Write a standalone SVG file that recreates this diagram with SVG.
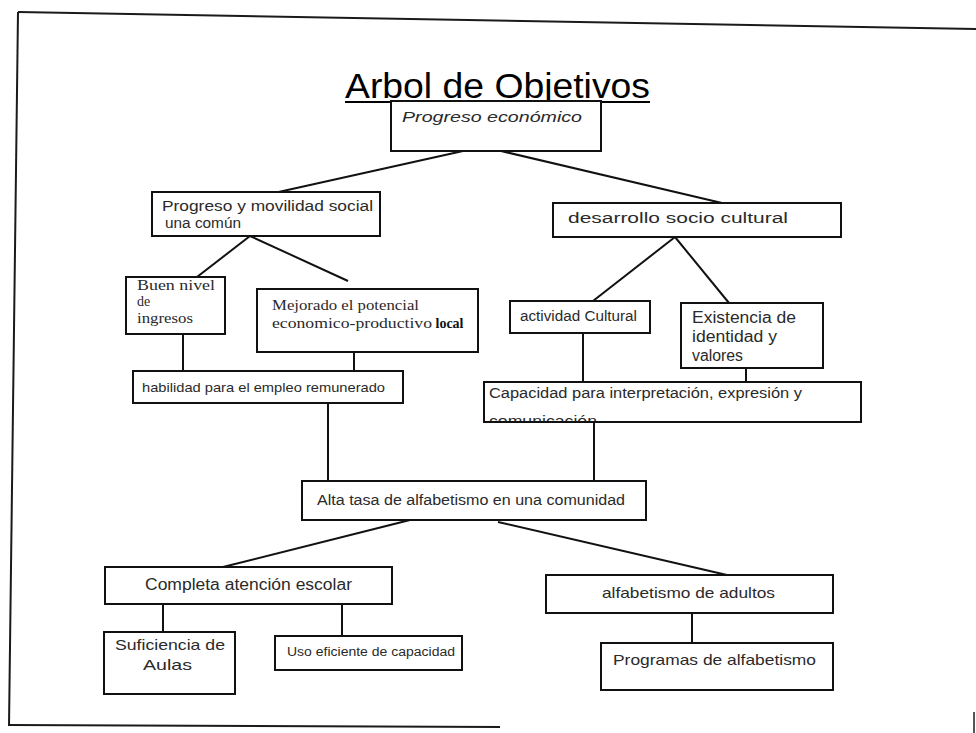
<svg xmlns="http://www.w3.org/2000/svg" width="976" height="733" viewBox="0 0 976 733">
<style>
.bg{fill:#ffffff}
.frame{fill:none;stroke:#1a1a1a;stroke-width:2}
.box{fill:#ffffff;stroke:#111111;stroke-width:2}
.conn{fill:none;stroke:#111111;stroke-width:2}
.t{font-family:"Liberation Sans",Arial,sans-serif;fill:#2a2a2a}
.s{font-family:"Liberation Serif","Times New Roman",serif;fill:#2a2a2a}
.title{font-family:"Liberation Sans",Arial,sans-serif;fill:#000000;font-size:35px}
</style>
<defs>
<clipPath id="capClip"><rect x="485" y="383" width="375" height="38"/></clipPath>
</defs>
<rect class="bg" x="0" y="0" width="976" height="733"/>
<g id="frame">
<line class="frame" x1="18" y1="12" x2="976" y2="29"/>
<line class="frame" x1="18" y1="12" x2="9" y2="726"/>
<line class="frame" x1="9" y1="725" x2="500" y2="727"/>
<line x1="974" y1="712" x2="974" y2="733" stroke="#555" stroke-width="2"/>
</g>
<g id="title">
<text class="title" x="345" y="98" textLength="305" lengthAdjust="spacingAndGlyphs">Arbol de Objetivos</text>
<line x1="345" y1="102" x2="650" y2="102" stroke="#000" stroke-width="2"/>
</g>
<g id="connectors">
<line class="conn" x1="463" y1="151" x2="274" y2="193"/>
<line class="conn" x1="501" y1="151" x2="722" y2="203"/>
<line class="conn" x1="250" y1="236" x2="197" y2="277"/>
<line class="conn" x1="250" y1="236" x2="348" y2="281"/>
<line class="conn" x1="183" y1="334" x2="183" y2="371"/>
<line class="conn" x1="354" y1="352" x2="354" y2="371"/>
<line class="conn" x1="675" y1="237" x2="593" y2="301"/>
<line class="conn" x1="675" y1="237" x2="729" y2="303"/>
<line class="conn" x1="583" y1="333" x2="583" y2="382"/>
<line class="conn" x1="746" y1="368" x2="746" y2="382"/>
<line class="conn" x1="328" y1="403" x2="328" y2="481"/>
<line class="conn" x1="594" y1="422" x2="594" y2="481"/>
<line class="conn" x1="410" y1="520" x2="223" y2="567"/>
<line class="conn" x1="498" y1="522" x2="727" y2="575"/>
<line class="conn" x1="163" y1="604" x2="163" y2="632"/>
<line class="conn" x1="342" y1="604" x2="342" y2="636"/>
<line class="conn" x1="692" y1="613" x2="692" y2="643"/>
</g>
<g id="n-progreso-economico">
<rect class="box" x="391" y="101" width="210" height="50"/>
<text class="t" x="402" y="122" font-size="14" font-style="italic" textLength="180" lengthAdjust="spacingAndGlyphs">Progreso económico</text>
</g>
<g id="n-progreso-movilidad">
<rect class="box" x="152" y="192" width="228" height="44"/>
<text class="t" x="162" y="211" font-size="14" textLength="211" lengthAdjust="spacingAndGlyphs">Progreso y movilidad social</text>
<text class="t" x="165" y="228" font-size="14" textLength="76" lengthAdjust="spacingAndGlyphs">una común</text>
</g>
<g id="n-desarrollo">
<rect class="box" x="553" y="203" width="288" height="34"/>
<text class="t" x="568" y="223" font-size="14" textLength="220" lengthAdjust="spacingAndGlyphs">desarrollo socio cultural</text>
</g>
<g id="n-buen-nivel">
<rect class="box" x="126" y="277" width="99" height="57"/>
<text class="s" x="137" y="290" font-size="14" textLength="78" lengthAdjust="spacingAndGlyphs">Buen nivel</text>
<text class="s" x="137" y="306" font-size="14">de</text>
<text class="s" x="137" y="323" font-size="14" textLength="56" lengthAdjust="spacingAndGlyphs">ingresos</text>
</g>
<g id="n-mejorado">
<rect class="box" x="257" y="289" width="221" height="63"/>
<text class="s" x="272" y="310" font-size="14" textLength="147" lengthAdjust="spacingAndGlyphs">Mejorado el potencial</text>
<text class="s" x="272" y="328" font-size="14"><tspan textLength="160" lengthAdjust="spacingAndGlyphs">economico-productivo</tspan> <tspan font-weight="bold" fill="#111">local</tspan></text>
</g>
<g id="n-habilidad">
<rect class="box" x="133" y="371" width="270" height="32"/>
<text class="t" x="142" y="392" font-size="13" textLength="243" lengthAdjust="spacingAndGlyphs" fill="#111">habilidad para el empleo remunerado</text>
</g>
<g id="n-actividad">
<rect class="box" x="510" y="301" width="140" height="32"/>
<text class="t" x="520" y="321" font-size="14" textLength="117" lengthAdjust="spacingAndGlyphs">actividad Cultural</text>
</g>
<g id="n-existencia">
<rect class="box" x="681" y="303" width="142" height="65"/>
<text class="t" x="692" y="323" font-size="16" textLength="104" lengthAdjust="spacingAndGlyphs">Existencia de</text>
<text class="t" x="692" y="342" font-size="16" textLength="85" lengthAdjust="spacingAndGlyphs">identidad y</text>
<text class="t" x="692" y="361" font-size="16" textLength="51" lengthAdjust="spacingAndGlyphs">valores</text>
</g>
<g id="n-capacidad">
<rect class="box" x="484" y="382" width="377" height="40"/>
<text class="t" x="489" y="398" font-size="14" textLength="313" lengthAdjust="spacingAndGlyphs">Capacidad para interpretación, expresión y</text>
<text class="t" x="489" y="426" font-size="14" textLength="108" lengthAdjust="spacingAndGlyphs" clip-path="url(#capClip)">comunicación</text>
</g>
<g id="n-alta-tasa">
<rect class="box" x="302" y="481" width="344" height="39"/>
<text class="t" x="317" y="505" font-size="14" textLength="308" lengthAdjust="spacingAndGlyphs">Alta tasa de alfabetismo en una comunidad</text>
</g>
<g id="n-completa">
<rect class="box" x="105" y="567" width="287" height="37"/>
<text class="t" x="145" y="590" font-size="16" textLength="207" lengthAdjust="spacingAndGlyphs">Completa atención escolar</text>
</g>
<g id="n-alfabetismo-adultos">
<rect class="box" x="546" y="575" width="287" height="38"/>
<text class="t" x="602" y="598" font-size="15" textLength="173" lengthAdjust="spacingAndGlyphs">alfabetismo de adultos</text>
</g>
<g id="n-suficiencia">
<rect class="box" x="104" y="632" width="131" height="62"/>
<text class="t" x="115" y="650" font-size="15" textLength="110" lengthAdjust="spacingAndGlyphs">Suficiencia de</text>
<text class="t" x="143" y="670" font-size="15" textLength="49" lengthAdjust="spacingAndGlyphs">Aulas</text>
</g>
<g id="n-uso">
<rect class="box" x="275" y="636" width="187" height="34"/>
<text class="t" x="287" y="656" font-size="12" textLength="168" lengthAdjust="spacingAndGlyphs" fill="#111">Uso eficiente de capacidad</text>
</g>
<g id="n-programas">
<rect class="box" x="601" y="643" width="232" height="47"/>
<text class="t" x="613" y="665" font-size="15" textLength="203" lengthAdjust="spacingAndGlyphs">Programas de alfabetismo</text>
</g>
</svg>
